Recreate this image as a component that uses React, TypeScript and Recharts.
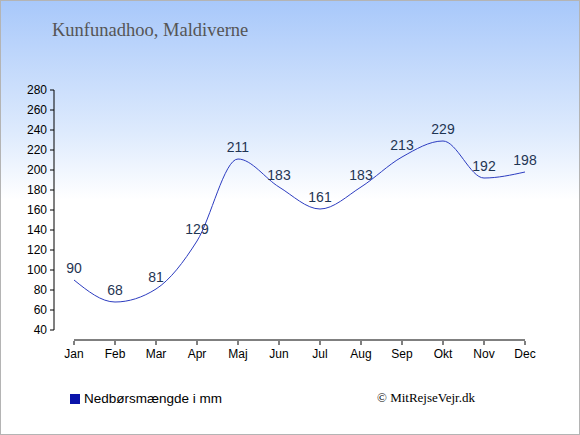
import React from 'react';
import { LineChart, Line, XAxis, YAxis, LabelList, ReferenceLine } from 'recharts';

const months = ['Jan', 'Feb', 'Mar', 'Apr', 'Maj', 'Jun', 'Jul', 'Aug', 'Sep', 'Okt', 'Nov', 'Dec'];
const rainfall = [90, 68, 81, 129, 211, 183, 161, 183, 213, 229, 192, 198];
const yTicks = [40, 60, 80, 100, 120, 140, 160, 180, 200, 220, 240, 260, 280];
const axisBase = 30;

const data = months.map((m, i) => ({ month: m, rain: rainfall[i] }));

const XTick = (props: any) => {
  const { x, y, payload } = props;
  return (
    <g>
      <line x1={x} x2={x} y1={y + 11} y2={y + 15} stroke="#000" strokeWidth={1} />
      <text x={x} y={y + 28} textAnchor="middle" fontSize={12} fill="#000" fontFamily="'Liberation Sans', Arial, sans-serif">
        {payload.value}
      </text>
    </g>
  );
};

export default function App() {
  return (
    <div
      style={{
        position: 'fixed',
        left: 0,
        top: 0,
        width: 580,
        height: 435,
        boxSizing: 'border-box',
        border: '1px solid #b4b4b4',
        background: 'linear-gradient(to bottom, #a8c8fa 0%, #ddeafd 30%, #ffffff 46%, #ffffff 100%)',
        overflow: 'hidden',
        fontFamily: "'Liberation Sans', Arial, sans-serif",
      }}
    >
      <div
        style={{
          position: 'absolute',
          left: 51,
          top: 19,
          fontFamily: "'Liberation Serif', 'Times New Roman', serif",
          fontSize: 18.5,
          color: '#555555',
          whiteSpace: 'nowrap',
        }}
      >
        Kunfunadhoo, Maldiverne
      </div>
      <div style={{ position: 'absolute', left: -1, top: -1 }}>
        <LineChart width={580} height={435} data={data} margin={{ top: 90, right: 35, bottom: 75, left: 0 }}>
          <YAxis
            domain={[40, 280]}
            ticks={yTicks}
            interval={0}
            width={54}
            tickSize={4}
            tickMargin={3}
            axisLine={{ stroke: '#000' }}
            tickLine={{ stroke: '#000' }}
            tick={{ fill: '#000', fontSize: 12, fontFamily: "'Liberation Sans', Arial, sans-serif" }}
            allowDataOverflow
          />
          <XAxis
            dataKey="month"
            padding={{ left: 20, right: 20 }}
            axisLine={false}
            tickLine={false}
            tickSize={0}
            tickMargin={0}
            height={30}
            interval={0}
            tick={<XTick />}
          />
          <ReferenceLine
            segment={[{ x: months[0], y: axisBase }, { x: months[months.length - 1], y: axisBase }]}
            stroke="#000"
            strokeWidth={1}
            ifOverflow="visible"
          />
          <Line
            type="monotone"
            dataKey="rain"
            stroke="#2c3cc0"
            strokeWidth={1}
            dot={false}
            isAnimationActive={false}
          >
            <LabelList dataKey="rain" position="top" offset={7} fill="#1f3553" fontSize={14} fontFamily="'Liberation Sans', Arial, sans-serif" />
          </Line>
        </LineChart>
      </div>
      <div style={{ position: 'absolute', left: 69, top: 393, width: 10, height: 10, background: '#0a14aa' }} />
      <div style={{ position: 'absolute', left: 83, top: 390, fontSize: 13.5, color: '#000', whiteSpace: 'nowrap' }}>
        Nedbørsmængde i mm
      </div>
      <div
        style={{
          position: 'absolute',
          left: 376,
          top: 389,
          fontSize: 13,
          color: '#000',
          fontFamily: "'Liberation Serif', 'Times New Roman', serif",
          whiteSpace: 'nowrap',
        }}
      >
        © MitRejseVejr.dk
      </div>
    </div>
  );
}
